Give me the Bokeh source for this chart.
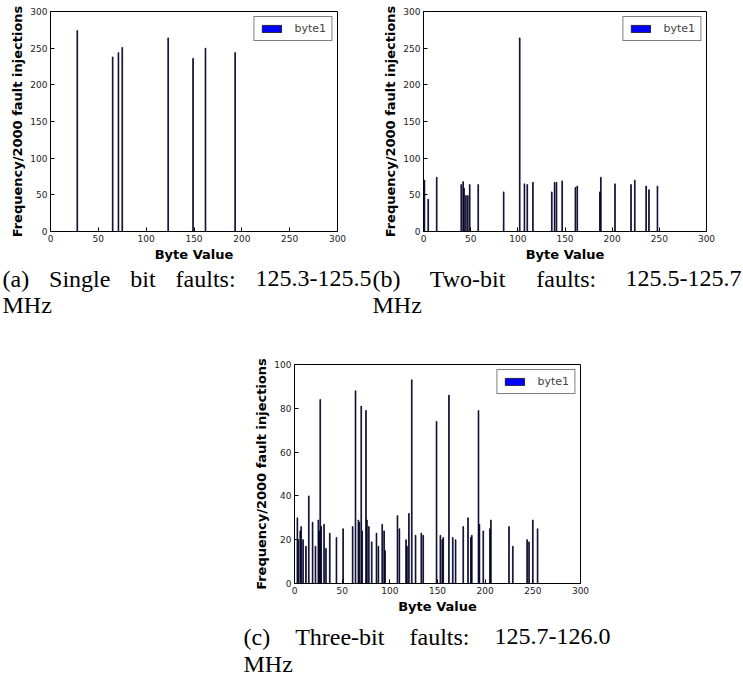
from bokeh.plotting import figure
from bokeh.layouts import column, row
from bokeh.models import Range1d, FixedTicker, Spacer
from bokeh.core.properties import value
from bokeh.embed import file_html
from bokeh.resources import INLINE

# ---------------- data ----------------
bytes_a = [28, 65, 71, 75, 123, 149, 162, 193]
freq_a = [274, 238, 244, 251, 264, 236, 250, 244]

bytes_b = [1, 5, 14, 40, 42, 43, 45, 47, 49, 58, 85, 102, 107, 110, 116, 136, 139,
           141, 147, 161, 163, 187, 188, 203, 220, 224, 236, 239, 248]
freq_b = [70, 44, 74, 64, 68, 59, 49, 49, 64, 64, 54, 264, 65, 64, 67, 54, 67,
          67, 69, 60, 62, 54, 74, 65, 64, 70, 62, 57, 62]

bytes_c = [3, 4, 6, 7, 9, 12, 15, 19, 22, 25, 26, 27, 28, 31, 33, 37, 44, 51, 61, 64,
           67, 68, 70, 71, 75, 76, 78, 81, 86, 88, 92, 94, 95, 108, 110, 117, 118, 120,
           123, 127, 133, 135, 149, 153, 155, 156, 162, 166, 169, 177, 182, 185, 186,
           193, 194, 198, 205, 206, 225, 229, 244, 246, 250, 255]
freq_c = [30, 20, 24, 26, 20, 17, 40, 28, 17, 29, 24, 84, 26, 27, 16, 23, 21, 25, 26, 88,
          29, 28, 81, 24, 79, 29, 26, 19, 23, 17, 27, 24, 15, 31, 25, 20, 17, 32,
          93, 22, 23, 22, 74, 22, 20, 21, 86, 21, 20, 26, 30, 21, 22,
          79, 27, 24, 25, 29, 26, 17, 20, 19, 29, 25]

x_ticks = [0, 50, 100, 150, 200, 250, 300]
y_ticks_ab = [0, 50, 100, 150, 200, 250, 300]
y_ticks_c = [0, 20, 40, 60, 80, 100]
series_name = "byte1"
x_label = "Byte Value"
y_label = "Frequency/2000 fault injections"
caption_a = ["(a)", "Single", "bit", "faults:", "125.3-125.5"]
caption_b = ["(b)", "Two-bit", "faults:", "125.5-125.7"]
caption_c = ["(c)", "Three-bit", "faults:", "125.7-126.0"]
caption_unit = "MHz"

# ---------------- styling helpers ----------------
TICK_FONT = "9px"
LABEL_FONT = "13px"
CAP_FONT_PX = 24
CAP_FONT = "Liberation Serif"

TIMES_W = {'(': 333, ')': 333, 'a': 444, 'b': 500, 'c': 444, 'S': 556, 'i': 278,
           'n': 500, 'g': 500, 'l': 278, 'e': 444, 't': 278, 'f': 333, 'u': 500,
           's': 389, ':': 278, '.': 250, '-': 333, 'T': 611, 'w': 722, 'o': 500,
           'h': 500, 'r': 333, 'M': 889, 'H': 722, 'z': 444}


def text_w(s):
    return sum(TIMES_W.get(ch, 500) for ch in s) / 1000.0 * CAP_FONT_PX


def style_axis(ax):
    ax.major_tick_in = 4
    ax.major_tick_out = 0
    ax.minor_tick_line_color = None
    ax.axis_line_color = "black"
    ax.major_tick_line_color = "black"
    ax.major_label_text_font = "DejaVu Sans"
    ax.major_label_text_font_size = TICK_FONT
    ax.major_label_text_color = "#222222"
    ax.axis_label_text_font = "DejaVu Sans"
    ax.axis_label_text_font_style = "bold"
    ax.axis_label_text_font_size = LABEL_FONT
    ax.axis_label_text_color = "black"
    ax.major_label_standoff = 3
    ax.axis_label_standoff = 2


def make_panel(xs, ys, ymax, yticks, width, height, bl, br, bt, bb):
    p = figure(width=width, height=height, x_range=Range1d(0, 300),
               y_range=Range1d(0, ymax), output_backend="svg",
               toolbar_location=None, min_border_left=bl, min_border_right=br,
               min_border_top=bt, min_border_bottom=bb)
    p.grid.visible = False
    p.outline_line_color = "black"
    p.vbar(x=xs, top=ys, bottom=0, width=0.8, fill_color="blue",
           line_color="black", line_alpha=0.75, line_width=1,
           legend_label=series_name)
    p.xaxis.ticker = FixedTicker(ticks=x_ticks)
    p.yaxis.ticker = FixedTicker(ticks=yticks)
    p.xaxis.axis_label = x_label
    p.yaxis.axis_label = y_label
    for ax in p.xaxis + p.yaxis:
        style_axis(ax)
    lg = p.legend[0]
    lg.location = "top_right"
    lg.border_line_color = "black"
    lg.border_line_width = 1
    lg.margin = 5
    lg.padding = 5
    lg.label_text_font = "DejaVu Sans"
    lg.label_text_font_size = "11px"
    lg.glyph_width = 24
    lg.glyph_height = 9
    lg.label_standoff = 11
    lg.label_height = 10
    lg.spacing = 0
    return p


def caption_fig(width, height, lines):
    p = figure(width=width, height=height, x_range=Range1d(0, width),
               y_range=Range1d(height, 0), output_backend="svg",
               toolbar_location=None, x_axis_type=None, y_axis_type=None,
               min_border=0)
    p.grid.visible = False
    p.outline_line_color = None
    lx, ly, lt, rx, ry, rt = [], [], [], [], [], []
    for words, xl, xr, y in lines:
        if len(words) == 1:
            lx.append(xl); ly.append(y); lt.append(words[0])
            continue
        total = sum(text_w(w) for w in words)
        gap = (xr - xl - total) / (len(words) - 1)
        cur = xl
        for i, w in enumerate(words):
            if i == len(words) - 1:
                rx.append(xr); ry.append(y); rt.append(w)
            else:
                lx.append(cur); ly.append(y); lt.append(w)
            cur += text_w(w) + gap
    common = dict(text_font=value(CAP_FONT), text_font_size=f"{CAP_FONT_PX}px",
                  text_baseline="middle", text_color="black")
    p.text(x=lx, y=ly, text=lt, text_align="left", **common)
    p.text(x=rx, y=ry, text=rt, text_align="right", **common)
    return p


fig_a = make_panel(bytes_a, freq_a, 300, y_ticks_ab, 380, 264, 50, 43, 11, 31)
fig_b = make_panel(bytes_b, freq_b, 300, y_ticks_ab, 363, 264, 39, 37, 11, 31)
cap_ab = caption_fig(743, 66, [
    (caption_a, 2, 371, 14), ([caption_unit], 2, 0, 40),
    (caption_b, 372, 741, 14), ([caption_unit], 372, 0, 40),
])
fig_c = make_panel(bytes_c, freq_c, 100, y_ticks_c, 360, 286, 44, 30, 34, 30)
cap_c = caption_fig(743, 68, [
    (caption_c, 243, 610, 20), ([caption_unit], 243, 0, 47),
])

layout = column(
    row(fig_a, fig_b, spacing=0),
    cap_ab,
    row(Spacer(width=250, height=286), fig_c, spacing=0),
    cap_c,
    spacing=0,
)

open("out.html", "w").write(file_html(layout, INLINE))
